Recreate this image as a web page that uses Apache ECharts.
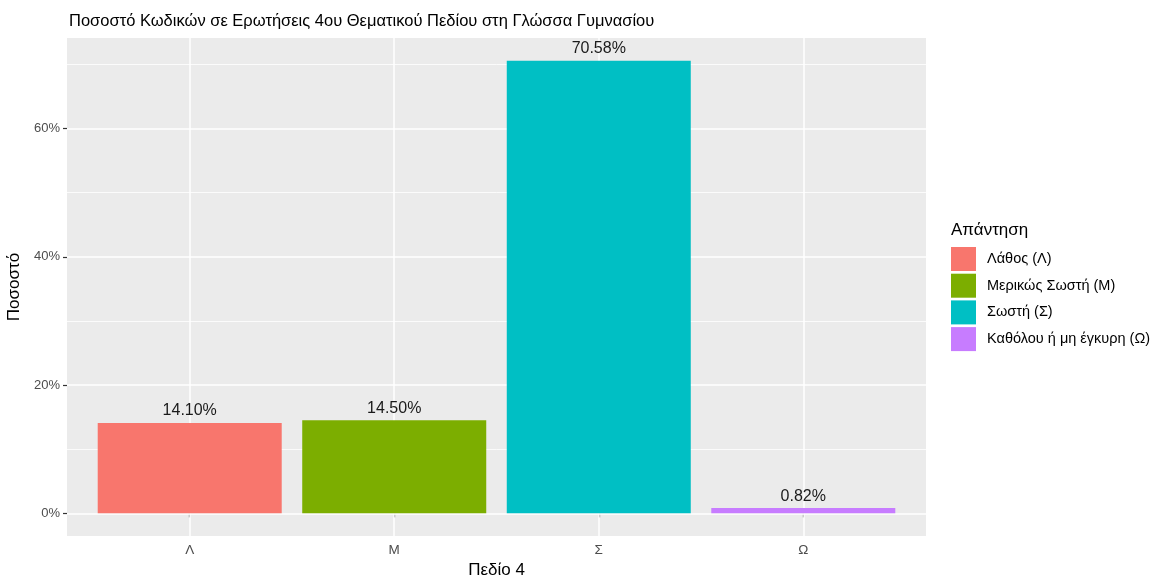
<!DOCTYPE html>
<html><head><meta charset="utf-8">
<script src="https://cdn.jsdelivr.net/npm/echarts@6/dist/echarts.min.js"></script>
<style>html,body{margin:0;padding:0;background:#fff}#c{width:1154px;height:576px}</style>
</head><body><div id="c"></div>
<script>
const categories = ['Λ', 'Μ', 'Σ', 'Ω'];
const seriesNames = ['Λάθος (Λ)', 'Μερικώς Σωστή (Μ)', 'Σωστή (Σ)', 'Καθόλου ή μη έγκυρη (Ω)'];
const values = [14.10, 14.50, 70.58, 0.82];
const colors = ['#F8766D', '#7CAE00', '#00BFC4', '#C77CFF'];
const yMajorTicks = [0, 20, 40, 60];
const yMinorTicks = [10, 30, 50, 70];

const FONT = 'Liberation Sans, Arial, Helvetica, sans-serif';
const yMin = -3.529, yMax = 74.109;
const xPos = categories.map((c, i) => i + 1);

const chart = echarts.init(document.getElementById('c'), null, {renderer: 'canvas'});

const barSeries = seriesNames.map((name, i) => ({
  name: name,
  type: 'bar',
  barWidth: 184,
  barGap: '-100%',
  z: 3,
  itemStyle: {color: colors[i]},
  label: {
    show: true, position: 'top', distance: 4,
    fontFamily: FONT, fontSize: 16, color: '#1a1a1a',
    formatter: p => p.value[1].toFixed(2) + '%'
  },
  data: [[xPos[i], values[i]]]
}));

const gridLineSeries = {
  type: 'line', data: [], silent: true, z: 1,
  markLine: {
    silent: true, symbol: 'none', z: 1, animation: false,
    label: {show: false},
    data: [
      ...yMinorTicks.map(v => ({yAxis: v, lineStyle: {color: '#ffffff', width: 0.8, type: 'solid'}})),
      ...yMajorTicks.map(v => ({yAxis: v, lineStyle: {color: '#ffffff', width: 1.5, type: 'solid'}})),
      ...xPos.map(v => ({xAxis: v, lineStyle: {color: '#ffffff', width: 1.5, type: 'solid'}}))
    ]
  }
};

chart.setOption({
  animation: false,
  backgroundColor: '#ffffff',
  title: {
    text: 'Ποσοστό Κωδικών σε Ερωτήσεις 4ου Θεματικού Πεδίου στη Γλώσσα Γυμνασίου',
    left: 69, top: 13, padding: 0,
    textStyle: {fontFamily: FONT, fontSize: 16.5, fontWeight: 'normal', color: '#000'}
  },
  grid: {left: 67, right: 228, top: 38, bottom: 40, show: true, backgroundColor: '#EBEBEB', borderWidth: 0,
    containLabel: false, outerBoundsMode: 'none'},
  legend: {
    orient: 'vertical', left: 951, top: 247, padding: 0,
    itemWidth: 25, itemHeight: 24, itemGap: 2.7,
    icon: 'rect',
    data: seriesNames,
    textStyle: {fontFamily: FONT, fontSize: 14.5, color: '#000', padding: [0, 0, 0, 6]}
  },
  graphic: [{
    type: 'text', left: 951, top: 222,
    style: {text: 'Απάντηση', fontFamily: FONT, fontSize: 17, fill: '#000'}
  }],
  xAxis: {
    type: 'value', min: 0.4, max: 4.6,
    name: 'Πεδίο 4', nameLocation: 'middle', nameGap: 19,
    nameTextStyle: {fontFamily: FONT, fontSize: 17, color: '#000', verticalAlign: 'top'},
    axisLine: {show: false},
    splitLine: {show: false},
    axisTick: {show: true, customValues: xPos, length: 4, lineStyle: {color: '#333', width: 1.2}},
    axisLabel: {customValues: xPos, margin: 7, fontFamily: FONT, fontSize: 13.5, color: '#4D4D4D',
      formatter: v => categories[Math.round(v) - 1] || ''}
  },
  yAxis: {
    type: 'value', min: yMin, max: yMax,
    name: 'Ποσοστό', nameLocation: 'middle', nameGap: 40, nameRotate: 90,
    nameTextStyle: {fontFamily: FONT, fontSize: 17, color: '#000'},
    axisLine: {show: false},
    splitLine: {show: false},
    axisTick: {show: true, customValues: yMajorTicks, length: 4, lineStyle: {color: '#333', width: 1.2}},
    axisLabel: {customValues: yMajorTicks, margin: 7, fontFamily: FONT, fontSize: 13, color: '#4D4D4D',
      formatter: v => Math.round(v) + '%'}
  },
  series: [gridLineSeries, ...barSeries]
});
</script></body></html>
